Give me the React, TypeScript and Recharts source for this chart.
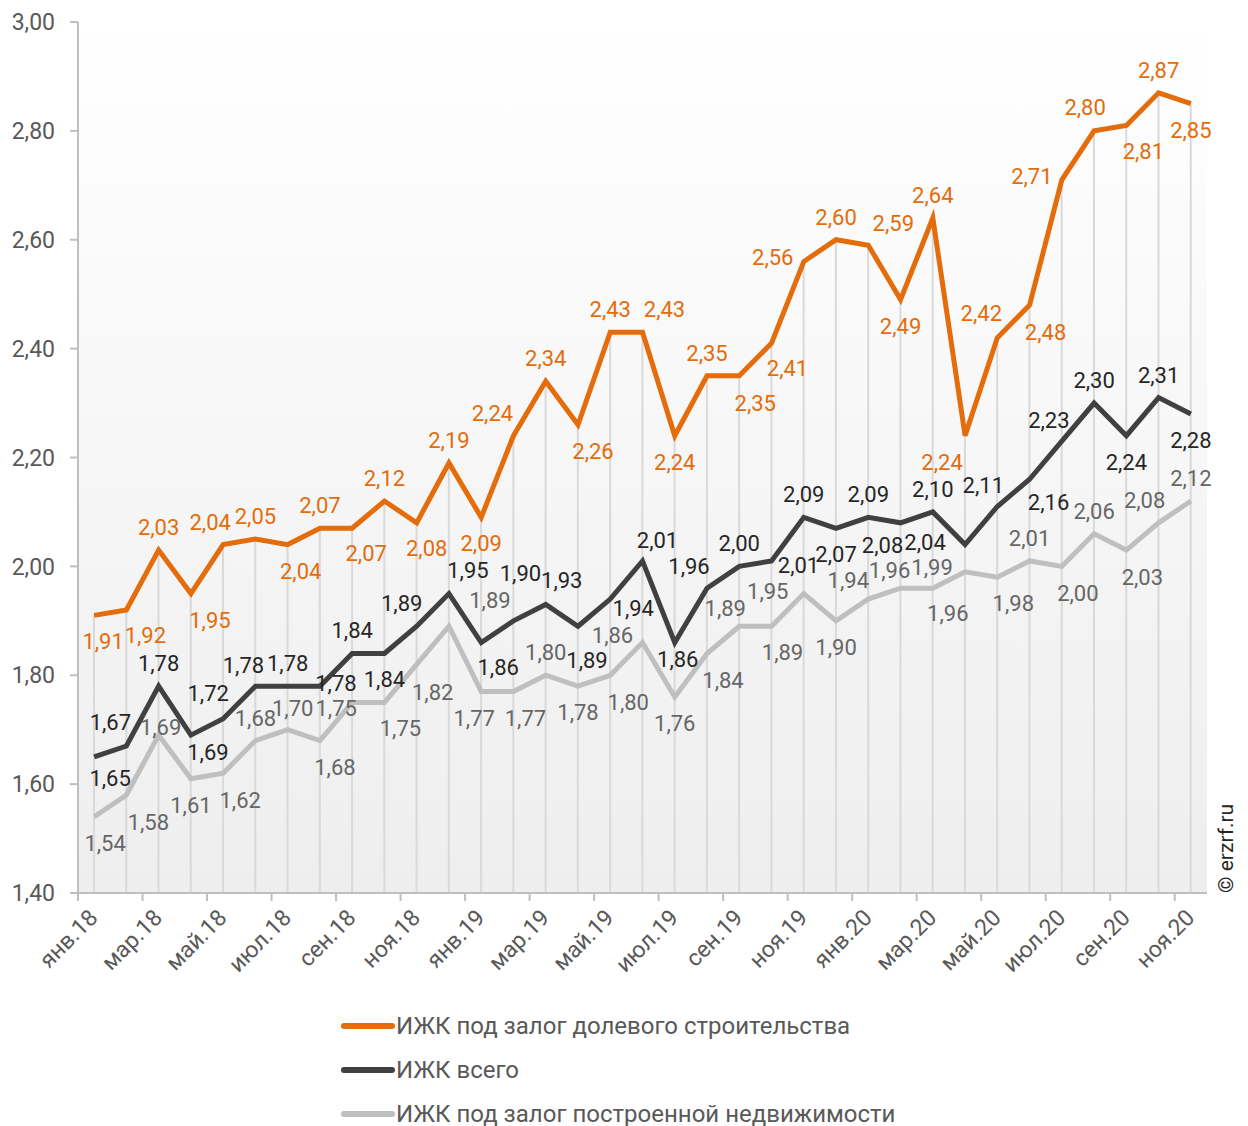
import {
  ComposedChart,
  Line,
  Bar,
  XAxis,
  YAxis,
  CartesianGrid,
  Legend,
  LabelList,
  Customized,
} from "recharts";

const months = [
  "янв.18", "фев.18", "мар.18", "апр.18", "май.18", "июн.18", "июл.18", "авг.18", "сен.18", "окт.18", "ноя.18", "дек.18",
  "янв.19", "фев.19", "мар.19", "апр.19", "май.19", "июн.19", "июл.19", "авг.19", "сен.19", "окт.19", "ноя.19", "дек.19",
  "янв.20", "фев.20", "мар.20", "апр.20", "май.20", "июн.20", "июл.20", "авг.20", "сен.20", "окт.20", "ноя.20",
];

// ИЖК под залог долевого строительства
const dolevoe = [
  1.91, 1.92, 2.03, 1.95, 2.04, 2.05, 2.04, 2.07, 2.07, 2.12, 2.08, 2.19,
  2.09, 2.24, 2.34, 2.26, 2.43, 2.43, 2.24, 2.35, 2.35, 2.41, 2.56, 2.60,
  2.59, 2.49, 2.64, 2.24, 2.42, 2.48, 2.71, 2.80, 2.81, 2.87, 2.85,
];

// ИЖК всего
const vsego = [
  1.65, 1.67, 1.78, 1.69, 1.72, 1.78, 1.78, 1.78, 1.84, 1.84, 1.89, 1.95,
  1.86, 1.90, 1.93, 1.89, 1.94, 2.01, 1.86, 1.96, 2.00, 2.01, 2.09, 2.07,
  2.09, 2.08, 2.10, 2.04, 2.11, 2.16, 2.23, 2.30, 2.24, 2.31, 2.28,
];

// ИЖК под залог построенной недвижимости
const postroennoe = [
  1.54, 1.58, 1.69, 1.61, 1.62, 1.68, 1.70, 1.68, 1.75, 1.75, 1.82, 1.89,
  1.77, 1.77, 1.80, 1.78, 1.80, 1.86, 1.76, 1.84, 1.89, 1.89, 1.95, 1.90,
  1.94, 1.96, 1.96, 1.99, 1.98, 2.01, 2.00, 2.06, 2.03, 2.08, 2.12,
];

const seriesNames = [
  "ИЖК под залог долевого строительства",
  "ИЖК всего",
  "ИЖК под залог построенной недвижимости",
];

const yTicks = [1.4, 1.6, 1.8, 2.0, 2.2, 2.4, 2.6, 2.8, 3.0];

// data labels that were dragged by hand in the original: [dx, dy of baseline] from the point
const dolevoeLabelMove: Record<number, [number, number]> = {
  0: [9, 34], 1: [19, 33], 3: [19, 34], 4: [-13, -15], 6: [13, 34], 8: [14, 33], 10: [10, 33],
  13: [-21, -15], 15: [15, 34], 17: [22, -15], 20: [16, 35], 21: [16, 33], 22: [-31, 3],
  24: [25, -14], 27: [-23, 34], 28: [-16, -17], 29: [16, 35], 30: [-30, 4], 31: [-9, -16], 32: [17, 34],
};
const vsegoLabelMove: Record<number, [number, number]> = {
  0: [16, 29], 1: [-16, -16], 3: [17, 25], 4: [-15, -18], 5: [-12, -13], 7: [16, 5], 10: [-15, -15],
  11: [19, -16], 12: [17, 32], 13: [7, -40], 14: [16, -16], 15: [9, 42], 16: [23, 17], 17: [15, -13],
  18: [3, 24], 19: [-18, -14], 21: [27, 12], 25: [-18, 30], 27: [-40, 5], 28: [-14, -13], 29: [19, 31],
  30: [-13, -13],
};
const postroennoeLabelMove: Record<number, [number, number]> = {
  0: [11, 34], 1: [22, 35], 2: [2, 0], 4: [17, 35], 6: [5, -14], 7: [15, 34], 8: [-16, 14], 9: [16, 34],
  10: [16, 36], 11: [41, -18], 12: [-7, 34], 13: [12, 34], 16: [18, 35], 17: [-30, 0], 19: [16, 35],
  20: [-14, -10], 21: [11, 34], 22: [-36, 5], 24: [-20, -11], 25: [-11, -10], 26: [15, 33], 27: [-33, 3],
  28: [16, 34], 30: [16, 35], 32: [16, 35], 33: [-14, -15],
};

const data = months.map((m, i) => ({
  month: m,
  dolevoe: dolevoe[i],
  vsego: vsego[i],
  postroennoe: postroennoe[i],
}));

const ORANGE = "#e46c0a";
const DARK = "#404040";
const LIGHT = "#bfbfbf";
const AXIS = "#bfbfbf";
const TEXT = "#595959";

const W = 1232;
const H = 1118;
const LEFT = 70;
const RIGHT = 33;
const PLOT_W = W - LEFT - RIGHT;
const BAND = PLOT_W / months.length;

const fmt = (v: number) => v.toFixed(2).replace(".", ",");

// label goes above when the point sits above the chord of its neighbours
const isAbove = (arr: number[], i: number) => {
  const v = arr[i];
  if (i === 0) return v >= arr[1];
  if (i === arr.length - 1) return v >= arr[i - 1];
  return v >= (arr[i - 1] + arr[i + 1]) / 2 - 1e-9;
};

const makeLabel = (arr: number[], color: string, moved: Record<number, [number, number]>) => (props: any) => {
  const { x, y, index } = props;
  const [dx, dy] = moved[index] || [0, isAbove(arr, index) ? -15 : 34];
  return (
    <text x={x + dx} y={y + dy} textAnchor="middle" fill={color} fontSize={22}>
      {fmt(arr[index])}
    </text>
  );
};

function MonthTick({ x, y, payload }: any) {
  const tx = x + 5;
  const ty = y + 18;
  return (
    <g>
      <line x1={x - BAND / 2} x2={x - BAND / 2} y1={y - 8} y2={y} stroke={AXIS} strokeWidth={2} />
      <text
        x={tx}
        y={ty}
        transform={`rotate(-45 ${tx} ${ty})`}
        textAnchor="end"
        fill={TEXT}
        fontSize={23}
      >
        {payload.value}
      </text>
    </g>
  );
}

function LegendBox({ payload }: any) {
  const items = (payload || [])
    .filter((p: any) => p.type !== "none")
    .sort((a: any, b: any) => seriesNames.indexOf(a.value) - seriesNames.indexOf(b.value));
  return (
    <div>
      {items.map((p: any) => (
        <div key={p.value} style={{ display: "flex", alignItems: "center", height: 44 }}>
          <svg width={56} height={8}>
            <line x1={4} x2={52} y1={4} y2={4} stroke={p.color} strokeWidth={6} strokeLinecap="round" />
          </svg>
          <span style={{ color: TEXT, fontSize: 24 }}>{p.value}</span>
        </div>
      ))}
    </div>
  );
}

export default function App() {
  return (
    <div style={{ width: W, height: H, fontFamily: "Roboto, sans-serif" }}>
      <ComposedChart
        width={W}
        height={H}
        data={data}
        margin={{ top: 14, right: RIGHT, left: 0, bottom: 133 }}
      >
        <defs>
          <linearGradient id="plotBg" x1="0" y1="0" x2="0" y2="1">
            <stop offset="0%" stopColor="#ffffff" />
            <stop offset="100%" stopColor="#eeeeee" />
          </linearGradient>
        </defs>
        <CartesianGrid horizontal={false} vertical={false} fill="url(#plotBg)" />
        <XAxis
          dataKey="month"
          interval={1}
          height={100}
          tickSize={8}
          tickMargin={0}
          tickLine={false}
          axisLine={{ stroke: AXIS, strokeWidth: 2 }}
          tick={<MonthTick />}
        />
        <YAxis
          width={LEFT}
          domain={[1.4, 3.0]}
          ticks={yTicks}
          tickFormatter={fmt}
          tickSize={8}
          tickMargin={15}
          axisLine={{ stroke: AXIS, strokeWidth: 2 }}
          tickLine={{ stroke: AXIS, strokeWidth: 2 }}
          tick={{ fill: TEXT, fontSize: 23 }}
        />
        <Bar
          dataKey="dolevoe"
          barSize={2}
          fill="#d9d9d9"
          legendType="none"
          isAnimationActive={false}
        />
        <Line
          dataKey="dolevoe"
          name={seriesNames[0]}
          stroke={ORANGE}
          strokeWidth={5}
          dot={false}
          isAnimationActive={false}
        >
          <LabelList dataKey="dolevoe" content={makeLabel(dolevoe, ORANGE, dolevoeLabelMove)} />
        </Line>
        <Line
          dataKey="vsego"
          name={seriesNames[1]}
          stroke={DARK}
          strokeWidth={5}
          dot={false}
          isAnimationActive={false}
        >
          <LabelList dataKey="vsego" content={makeLabel(vsego, "#262626", vsegoLabelMove)} />
        </Line>
        <Line
          dataKey="postroennoe"
          name={seriesNames[2]}
          stroke={LIGHT}
          strokeWidth={5}
          dot={false}
          isAnimationActive={false}
        >
          <LabelList dataKey="postroennoe" content={makeLabel(postroennoe, "#666666", postroennoeLabelMove)} />
        </Line>
        <Legend
          layout="vertical"
          align="center"
          verticalAlign="middle"
          wrapperStyle={{ top: 996, left: 332, width: 640 }}
          content={<LegendBox />}
        />
        <Customized
          component={() => (
            <text
              x={1225}
              y={885}
              transform="rotate(-90 1225 885)"
              fill="#262626"
              fontSize={21}
            >
              © erzrf.ru
            </text>
          )}
        />
      </ComposedChart>
    </div>
  );
}
